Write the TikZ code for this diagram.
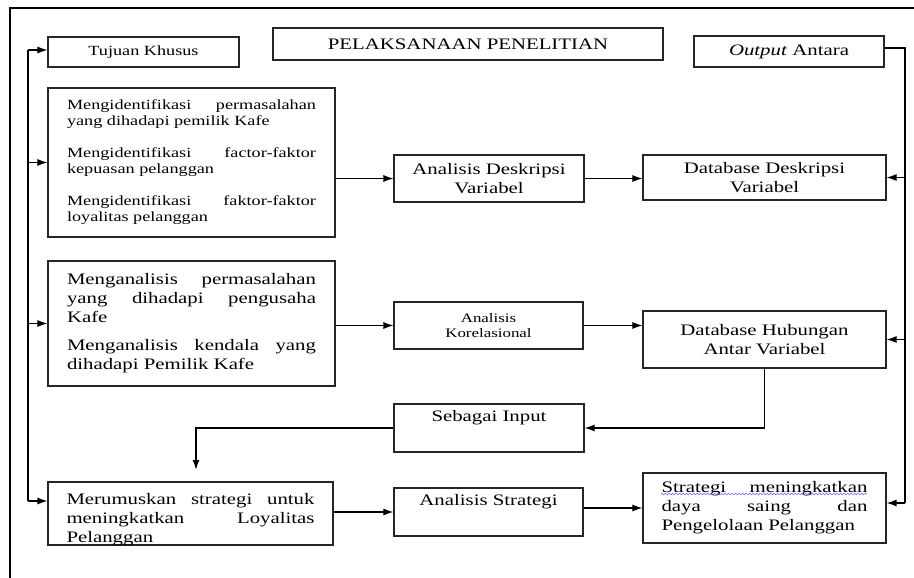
\documentclass[tikz,border=0pt]{standalone}
\usepackage{fontspec}
\setmainfont{Liberation Serif}[FakeStretch=1.3]
\usetikzlibrary{arrows.meta,decorations.pathmorphing}
\newcommand\fkecil{\fontsize{14}{16}\selectfont}
\newcommand\fsedang{\fontsize{16}{19}\selectfont}
\newcommand\fmini{\fontsize{13}{15.5}\selectfont}
\hyphenpenalty=10000
\tolerance=10000

\begin{document}
\begin{tikzpicture}[x=1pt,y=-1pt,
    kotak/.style={draw=black!85, line width=1.2pt, inner sep=0pt, align=center, font=\fsedang},
    rata/.style={kotak, align=justify},
    panah/.style={line width=1.1pt, -{Latex[length=10pt,width=7pt]}},
    garis/.style={line width=1.1pt}]
    \useasboundingbox (0,0) rectangle (914,578);
    \draw[line width=2.5pt] (10,578) -- (10,8) -- (914,8);

    \node[kotak, minimum width=191pt, minimum height=30pt, font=\fkecil] (tujuan) at (143.5,52) {Tujuan Khusus};
    \node[kotak, minimum width=390pt, minimum height=32pt] (judul) at (468,44) {PELAKSANAAN PENELITIAN};
    \node[kotak, minimum width=190pt, minimum height=31pt] (output) at (789,51.5) {\textit{Output} Antara};

    \node[rata, text width=249pt, minimum width=287pt, minimum height=149pt, font=\fkecil] (idn) at (191.5,162.5)
        {Mengidentifikasi permasalahan\linebreak yang dihadapi pemilik Kafe\par\vspace{16pt}
         Mengidentifikasi factor-faktor\linebreak kepuasan pelanggan\par\vspace{16pt}
         Mengidentifikasi faktor-faktor\linebreak loyalitas pelanggan};
    \node[kotak, minimum width=190pt, minimum height=47pt] (deskripsi) at (489,178.5) {Analisis Deskripsi\\Variabel};
    \node[kotak, minimum width=243pt, minimum height=45pt] (dbdeskripsi) at (764.5,177.5) {Database Deskripsi\\Variabel};

    \node[rata, text width=249pt, minimum width=287pt, minimum height=125pt] (analisa) at (191.5,323.5)
        {Menganalisis permasalahan\linebreak yang dihadapi pengusaha\linebreak Kafe\par\vspace{9pt}
         Menganalisis kendala yang\linebreak dihadapi Pemilik Kafe};
    \node[kotak, minimum width=189pt, minimum height=47pt, font=\fmini] (korelasi) at (488.5,325.5) {Analisis\\Korelasional};
    \node[kotak, minimum width=243pt, minimum height=57pt] (dbhubungan) at (764.5,339.5) {Database Hubungan\\Antar Variabel};

    \node[kotak, minimum width=190pt, minimum height=48pt] (input) at (489,428) {Sebagai Input\\\strut};

    \node[rata, text width=248pt, minimum width=285pt, text height=22pt, text depth=41pt] (rumus) at (190.5,513.5)
        {Merumuskan strategi untuk\linebreak meningkatkan Loyalitas\linebreak Pelanggan};
    \node[kotak, minimum width=189pt, minimum height=48pt] (strategi) at (488.5,512) {Analisis Strategi\\\strut};
    \node[rata, text width=206pt, minimum width=243pt, minimum height=70pt] (hasil) at (764.5,508)
        {Strategi meningkatkan\linebreak daya saing dan\linebreak Pengelolaan Pelanggan};
    \draw[blue!60, line width=0.6pt, decorate, decoration={snake, amplitude=0.8pt, segment length=3.5pt}] (661,494) -- (867,494);

    \coordinate (kiri1) at (28,50);
    \coordinate (kiri4) at (28,501);
    \draw[garis] (kiri1) -- (kiri4);
    \draw[panah] (kiri1) -- (kiri1 -| tujuan.west);
    \draw[panah] (kiri1 |- idn.west) -- (idn.west);
    \draw[panah] (kiri1 |- analisa.west) -- (analisa.west);
    \draw[panah] (kiri4) -- (kiri4 -| rumus.west);

    \coordinate (kanan1) at (905,48);
    \coordinate (kanan4) at (905,503);
    \draw[garis] (kanan1 -| output.east) -- (kanan1) -- (kanan4);
    \draw[panah] (kanan1 |- dbdeskripsi.east) -- (dbdeskripsi.east);
    \draw[panah] (kanan1 |- dbhubungan.east) -- (dbhubungan.east);
    \draw[panah] (kanan4) -- (kanan4 -| hasil.east);

    \draw[panah] (deskripsi.west -| idn.east) -- (deskripsi.west);
    \draw[panah] (deskripsi.east) -- (deskripsi.east -| dbdeskripsi.west);
    \draw[panah] (korelasi.west -| analisa.east) -- (korelasi.west);
    \draw[panah] (korelasi.east) -- (korelasi.east -| dbhubungan.west);
    \draw[panah] (dbhubungan.south) |- (input.east);
    \coordinate (masuk) at (196,470);
    \draw[panah, line width=1.6pt] (input.west) -| (masuk);
    \draw[panah] (strategi.west -| rumus.east) -- (strategi.west);
    \draw[panah] (hasil.west -| strategi.east) -- (hasil.west);
\end{tikzpicture}
\end{document}
